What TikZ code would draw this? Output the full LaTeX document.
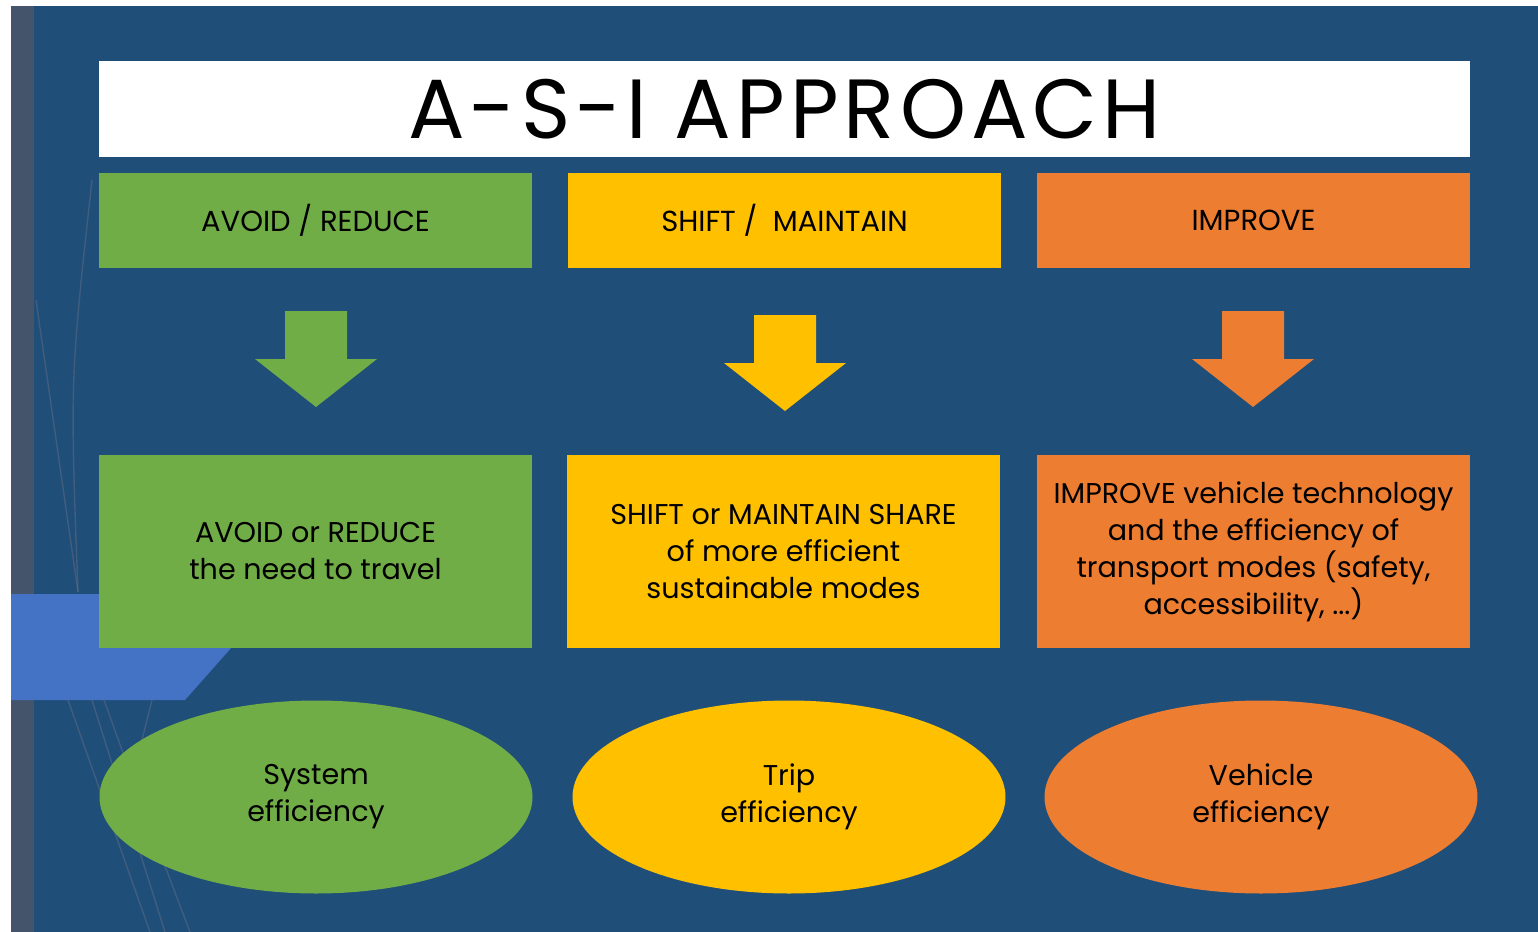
\documentclass[tikz,border=0pt]{standalone}
\usepackage{fontspec}
\setmainfont{Poppins}
\usepackage{tikz}
\usetikzlibrary{positioning, shapes.geometric}
\definecolor{slideBlue}{HTML}{1F4E79}
\definecolor{stripGray}{HTML}{44546A}
\definecolor{tabBlue}{HTML}{4472C4}
\definecolor{asiGreen}{HTML}{70AD47}
\definecolor{asiYellow}{HTML}{FFC000}
\definecolor{asiOrange}{HTML}{ED7D31}
\definecolor{themeLine}{HTML}{5E6A82}
\tikzstyle{titleBox}=[fill=white, minimum width=685.5pt, minimum height=48pt, inner sep=0pt, font=\fontsize{42}{48}\selectfont\addfontfeatures{LetterSpace=6}]
\tikzstyle{headBox}=[minimum width=216.5pt, minimum height=47.5pt, inner sep=0pt, font=\fontsize{14.5}{18}\selectfont]
\tikzstyle{bodyBox}=[minimum width=216.5pt, minimum height=96.5pt, inner sep=2pt, align=center, font=\fontsize{14.3}{18.5}\selectfont]
\tikzstyle{resultNode}=[ellipse, minimum width=216.5pt, minimum height=96.5pt, inner sep=0pt, align=center, font=\fontsize{14.3}{18.5}\selectfont]
\tikzstyle{faintLine}=[themeLine, line width=0.7pt, opacity=0.55]

\begin{document}
\begin{tikzpicture}[x=0.5pt, y=-0.5pt]
    \useasboundingbox (0,0) rectangle (1538,932);
    \fill[white] (0,0) rectangle (1538,932);
    \fill[slideBlue] (11,6) rectangle (1538,932);
    \fill[stripGray] (11,6) rectangle (34,932);

    % faint theme lines on the left
    \draw[faintLine] (36,300) -- (78,592);
    \draw[faintLine] (92,180) .. controls (70,380) .. (78,592);
    \draw[faintLine] (68,700) -- (150,932);
    \draw[faintLine] (92,700) -- (165,932);
    \draw[faintLine] (104,700) .. controls (140,800) .. (190,932);
    \draw[faintLine] (152,700) -- (142,740);

    \fill[tabBlue] (11,594) -- (279,594) -- (185,700) -- (11,700) -- cycle;

    \node[titleBox] (title) at (784.5,109) {A-S-I APPROACH};

    \node[headBox, fill=asiGreen] (avoid) at (315.5,220.5) {AVOID / REDUCE};
    \node[headBox, fill=asiYellow] (shift) at (784.5,220.5) {SHIFT /\ \ MAINTAIN};
    \node[headBox, fill=asiOrange] (improve) at (1253.5,220.5) {IMPROVE};

    % block arrows
    \foreach \cx/\ty/\col in {316/311/asiGreen, 785/315/asiYellow, 1253/311/asiOrange}
        \fill[\col] (\cx-31,\ty) -- (\cx+31,\ty) -- (\cx+31,\ty+48) -- (\cx+61,\ty+48)
            -- (\cx,\ty+96) -- (\cx-61,\ty+48) -- (\cx-31,\ty+48) -- cycle;

    \node[bodyBox, fill=asiGreen] (avoidText) at (315.5,551.5) {AVOID or REDUCE\\the need to travel};
    \node[bodyBox, fill=asiYellow] (shiftText) at (783.5,551.5) {SHIFT or MAINTAIN SHARE\\of more efficient\\sustainable modes};
    \node[bodyBox, fill=asiOrange] (improveText) at (1253.5,551.5) {IMPROVE vehicle technology\\and the efficiency of\\transport modes (safety,\\accessibility, ...)};

    \node[resultNode, fill=asiGreen] (system) at (316,797) {System\\efficiency};
    \node[resultNode, fill=asiYellow] (trip) at (789,797) {Trip\\efficiency};
    \node[resultNode, fill=asiOrange] (vehicle) at (1261,797) {Vehicle\\efficiency};

  \end{tikzpicture}
\end{document}
